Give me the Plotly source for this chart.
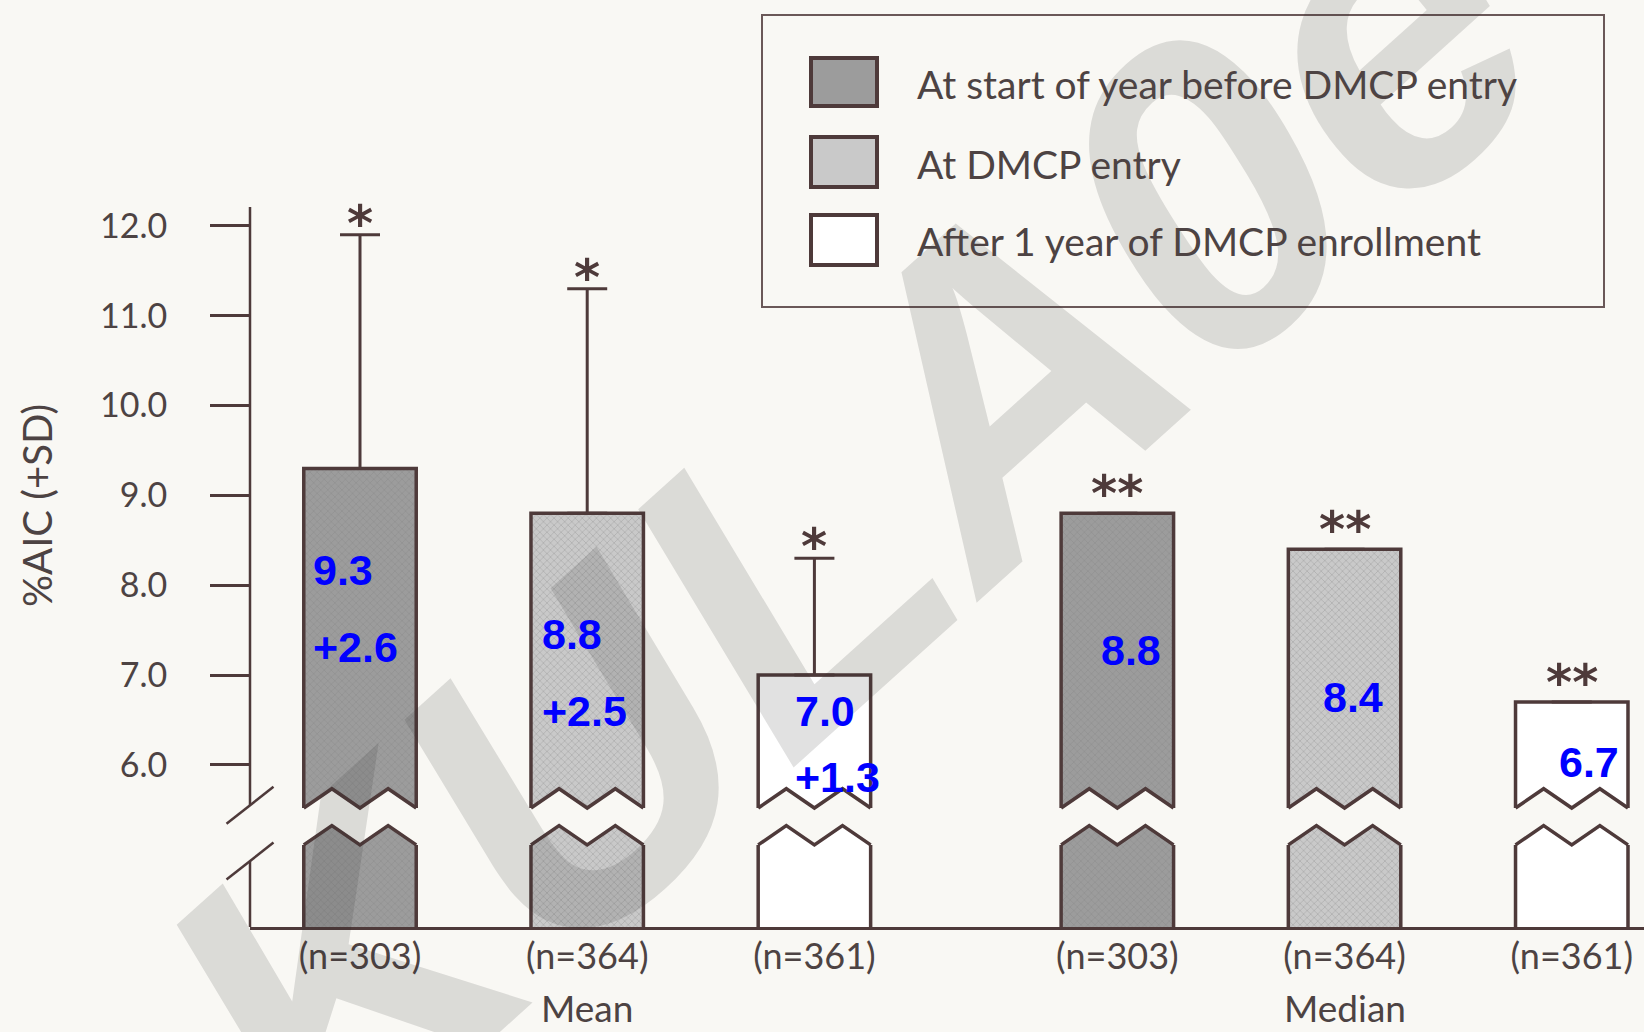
import plotly.graph_objects as go

# ---------------- data ----------------
groups = ["Mean", "Median"]
series_names = [
    "At start of year before DMCP entry",
    "At DMCP entry",
    "After 1 year of DMCP enrollment",
]
mean_a1c = [9.3, 8.8, 7.0]
mean_sd = [2.6, 2.5, 1.3]
median_a1c = [8.8, 8.4, 6.7]
n_labels = ["(n=303)", "(n=364)", "(n=361)"]
mean_sig = ["*", "*", "*"]
median_sig = ["**", "**", "**"]
y_ticks = [6.0, 7.0, 8.0, 9.0, 10.0, 11.0, 12.0]

# ---------------- geometry / style ----------------
W, H = 1644, 1032
ML, MR, MT, MB = 250, 0, 207, 105
PW, PH = W - ML - MR, H - MT - MB
Y_MIN, Y_MAX = 4.196, 12.21
PX_PER_X = 229.5
FIRST_BAR_PX = 360
X_MIN = (ML - FIRST_BAR_PX) / PX_PER_X
X_MAX = (W - MR - FIRST_BAR_PX) / PX_PER_X
BAR_STEP, GROUP_STEP, BAR_W = 0.99, 3.30, 0.49
PX_PER_Y = PH / (Y_MAX - Y_MIN)

# axis-break band (drawn across every bar)
LU, LL, ZH = 5.52, 5.11, 0.215

BG = "#f9f8f4"
INK = "#4e3a3a"
TXT = "#4d4343"
FILLS = ["#9c9c9c", "#c9c9c9", "#ffffff"]
BLUE = "#0000ff"
FONT = "Lato"

# annotation placement for the blue value labels
mean_label_dx = [-49, -47, -21]
mean_val_y = [8.17, 7.46, 6.60]
mean_sd_y = [7.31, 6.60, 5.87]
median_label_dx = [-18, -24, -15]
median_val_y = [7.28, 6.76, 6.03]


def pos(g, s):
    return g * GROUP_STEP + s * BAR_STEP


def paper_x(px):
    return (px - ML) / PW


def paper_y(py):
    return (H - MB - py) / PH


fig = go.Figure()

# ---------------- bars ----------------
for s, name in enumerate(series_names):
    marker = dict(color=FILLS[s], line=dict(color=INK, width=3.5))
    if s < 2:
        marker["pattern"] = dict(shape="x", size=5, solidity=0.2,
                                 fgcolor="#7c7c7c", fillmode="overlay")
    fig.add_trace(go.Bar(
        x=[pos(0, s), pos(1, s)],
        y=[mean_a1c[s], median_a1c[s]],
        width=BAR_W,
        name=name,
        marker=marker,
        error_y=dict(type="data", symmetric=False,
                     array=[mean_sd[s], None], arrayminus=[0, None],
                     color=INK, thickness=3, width=20),
        hovertemplate="%{y}<extra>" + name + "</extra>",
    ))

# ---------------- zig-zag axis break over each bar ----------------
for g in range(len(groups)):
    for s in range(len(series_names)):
        xc = pos(g, s)
        x0, x1 = xc - BAR_W / 2, xc + BAR_W / 2
        e = 0.03
        zx = [x0, x0 + BAR_W / 4, xc, x0 + 3 * BAR_W / 4, x1]
        top = [LU, LU + ZH, LU, LU + ZH, LU]
        bot = [LL, LL + ZH, LL, LL + ZH, LL]
        gx = [x0 - e] + zx + [x1 + e, x1 + e] + zx[::-1] + [x0 - e, x0 - e]
        gy = [LU] + top + [LU, LL] + bot[::-1] + [LL, LU]
        fig.add_trace(go.Scatter(x=gx, y=gy, mode="lines", fill="toself",
                                 fillcolor=BG, line=dict(width=0),
                                 hoverinfo="skip", showlegend=False))
        for yy in (top, bot):
            fig.add_trace(go.Scatter(x=zx, y=yy, mode="lines",
                                     line=dict(color=INK, width=3.5),
                                     hoverinfo="skip", showlegend=False))

# ---------------- axes ----------------
tick_pos = [pos(g, s) for g in range(len(groups)) for s in range(len(series_names))]
fig.update_xaxes(range=[X_MIN, X_MAX], tickvals=tick_pos, ticktext=n_labels * 2,
                 ticks="", showline=True, linecolor=INK, linewidth=2.5,
                 showgrid=False, zeroline=False, ticklabelstandoff=-4,
                 tickfont=dict(family=FONT, size=36, color=TXT))
fig.update_yaxes(range=[Y_MIN, Y_MAX], tickvals=y_ticks,
                 ticktext=[f"{v:.1f}" for v in y_ticks],
                 ticks="outside", ticklen=39, tickwidth=2.5, tickcolor=INK,
                 showline=False, showgrid=False, zeroline=False,
                 ticklabelstandoff=36,
                 tickfont=dict(family=FONT, size=34, color=TXT))

shapes = []
# broken y-axis line with the two slashes
BREAK_HI, BREAK_LO = 5.55, 4.93
shapes.append(dict(type="line", xref="paper", yref="y", x0=0, x1=0,
                   y0=BREAK_HI, y1=Y_MAX, line=dict(color=INK, width=2.5)))
shapes.append(dict(type="line", xref="paper", yref="y", x0=0, x1=0,
                   y0=Y_MIN, y1=BREAK_LO, line=dict(color=INK, width=2.5)))
sx, sy = 23.5 / PW, 18.5 / PX_PER_Y
for yc in (BREAK_HI, BREAK_LO):
    shapes.append(dict(type="line", xref="paper", yref="y",
                       x0=-sx, x1=sx, y0=yc - sy, y1=yc + sy,
                       line=dict(color=INK, width=2.5)))

# legend box and swatches
shapes.append(dict(type="rect", xref="paper", yref="paper",
                   x0=paper_x(762), x1=paper_x(1604), y0=paper_y(307), y1=paper_y(15),
                   line=dict(color="#6a5858", width=2)))
legend_rows = [(58, 106, 84), (137, 187, 164), (215, 265, 241)]
annotations = []

# watermark lettering across the page
annotations.append(dict(
    text="<b><i>KULA0e</i></b>", x=paper_x(848), y=paper_y(518),
    xref="paper", yref="paper", showarrow=False, textangle=-42,
    font=dict(family="Liberation Sans", size=430, color="rgba(40,40,40,0.14)")))

for s, (ya, yb, yt) in enumerate(legend_rows):
    shapes.append(dict(type="rect", xref="paper", yref="paper",
                       x0=paper_x(811), x1=paper_x(877), y0=paper_y(yb), y1=paper_y(ya),
                       fillcolor=FILLS[s], line=dict(color=INK, width=4)))
    annotations.append(dict(text=series_names[s], x=paper_x(915), y=paper_y(yt),
                            xref="paper", yref="paper", xanchor="left", yanchor="middle",
                            showarrow=False,
                            font=dict(family=FONT, size=39, color=TXT)))

# significance marks
sig_font = dict(family="DejaVu Sans", size=50, color=INK)
for s in range(len(series_names)):
    annotations.append(dict(text=f"<b>{mean_sig[s]}</b>", x=pos(0, s),
                            y=mean_a1c[s] + mean_sd[s],
                            xref="x", yref="y", showarrow=False, yanchor="middle",
                            yshift=11, font=sig_font))
    annotations.append(dict(text=f"<b>{median_sig[s]}</b>", x=pos(1, s), y=median_a1c[s],
                            xref="x", yref="y", showarrow=False, yanchor="middle",
                            yshift=19, font=sig_font))

# blue value labels
blue_font = dict(family="Liberation Sans", size=43, color=BLUE)
for s in range(len(series_names)):
    annotations.append(dict(text=f"<b>{mean_a1c[s]:.1f}</b>", x=pos(0, s), y=mean_val_y[s],
                            xref="x", yref="y", xanchor="left", yanchor="middle",
                            xshift=mean_label_dx[s], showarrow=False, font=blue_font))
    annotations.append(dict(text=f"<b>+{mean_sd[s]:.1f}</b>", x=pos(0, s), y=mean_sd_y[s],
                            xref="x", yref="y", xanchor="left", yanchor="middle",
                            xshift=mean_label_dx[s], showarrow=False, font=blue_font))
    annotations.append(dict(text=f"<b>{median_a1c[s]:.1f}</b>", x=pos(1, s), y=median_val_y[s],
                            xref="x", yref="y", xanchor="left", yanchor="middle",
                            xshift=median_label_dx[s], showarrow=False, font=blue_font))

# group captions
for g, label in enumerate(groups):
    annotations.append(dict(text=label, x=pos(g, 1), y=paper_y(1032),
                            xref="x", yref="paper", yanchor="bottom", showarrow=False,
                            font=dict(family=FONT, size=37, color=TXT)))

# y-axis title
annotations.append(dict(text="%AIC (+SD)", x=paper_x(37), y=paper_y(506),
                        xref="paper", yref="paper", textangle=-90, showarrow=False,
                        xanchor="center", yanchor="middle",
                        font=dict(family=FONT, size=40, color=TXT)))

fig.update_layout(
    width=W, height=H,
    margin=dict(l=ML, r=MR, t=MT, b=MB, pad=0),
    paper_bgcolor=BG, plot_bgcolor=BG,
    barmode="overlay", showlegend=False,
    shapes=shapes, annotations=annotations,
)

fig.write_html("out.html")
